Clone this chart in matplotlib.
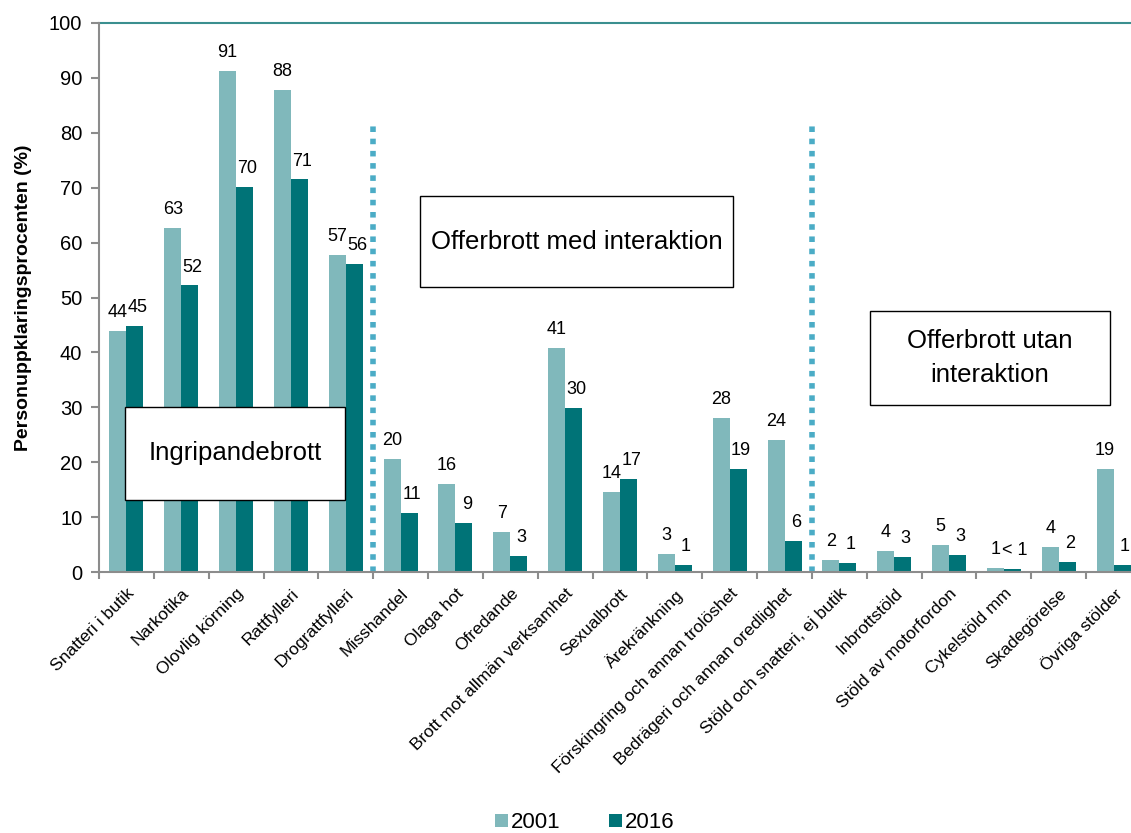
import matplotlib
matplotlib.use('Agg')
import matplotlib.pyplot as plt
from matplotlib.patches import Rectangle
import numpy as np

plt.rcParams['font.family'] = ['Liberation Sans', 'DejaVu Sans']

# Data
categories = ['Snatteri i butik', 'Narkotika', 'Olovlig körning', 'Rattfylleri',
              'Drograttfylleri', 'Misshandel', 'Olaga hot', 'Ofredande',
              'Brott mot allmän verksamhet', 'Sexualbrott', 'Ärekränkning',
              'Förskingring och annan trolöshet', 'Bedrägeri och annan oredlighet',
              'Stöld och snatteri, ej butik', 'Inbrottstöld', 'Stöld av motorfordon',
              'Cykelstöld mm', 'Skadegörelse', 'Övriga stölder']
values_2001 = [43.9, 62.7, 91.3, 87.8, 57.7, 20.6, 16.0, 7.3, 40.8, 14.6, 3.3,
               28.1, 24.0, 2.2, 3.8, 4.9, 0.8, 4.6, 18.8]
values_2016 = [44.8, 52.2, 70.1, 71.5, 56.1, 10.7, 8.9, 2.9, 29.9, 16.9, 1.3,
               18.7, 5.6, 1.6, 2.7, 3.1, 0.5, 1.8, 1.3]
labels_2001 = ['44', '63', '91', '88', '57', '20', '16', '7', '41', '14', '3',
               '28', '24', '2', '4', '5', '1', '4', '19']
labels_2016 = ['45', '52', '70', '71', '56', '11', '9', '3', '30', '17', '1',
               '19', '6', '1', '3', '3', '< 1', '2', '1']

c2001 = '#80b8bb'
c2016 = '#007377'
dotted = '#4bacc6'
gray = '#8c8c8c'

fig = plt.figure(figsize=(11.31, 8.33), dpi=100)
ax = fig.add_axes([99 / 1131, 1 - 572 / 833, 1042 / 1131, 549 / 833])

x = np.arange(len(categories))
w = 0.31
ax.bar(x - w / 2, values_2001, w, color=c2001, label='2001')
ax.bar(x + w / 2, values_2016, w, color=c2016, label='2016')

for i in range(len(categories)):
    ax.text(x[i] - w / 2, values_2001[i] + 1.8, labels_2001[i], ha='center',
            va='bottom', fontsize=13)
    ax.text(x[i] + w / 2 + 0.05, values_2016[i] + 1.8, labels_2016[i], ha='center',
            va='bottom', fontsize=13)

ax.set_xlim(-0.5, len(categories) - 0.5)
ax.set_ylim(0, 100)
ax.set_yticks(range(0, 101, 10))
ax.tick_params(axis='y', labelsize=14.5, color=gray, length=6, width=1.5, pad=6)
ax.set_xticks(x)
ax.set_xticklabels(categories, rotation=45, ha='right', rotation_mode='anchor',
                   fontsize=12.5)
ax.tick_params(axis='x', length=0, pad=10)
ax.set_xticks(np.arange(-0.5, len(categories), 1), minor=True)
ax.tick_params(axis='x', which='minor', length=5, width=1.5, color=gray)

for s in ['top', 'right']:
    ax.spines[s].set_visible(False)
for s in ['left', 'bottom']:
    ax.spines[s].set_color(gray)
    ax.spines[s].set_linewidth(1.5)
ax.axhline(100, color='#3a8f8f', lw=1.5, clip_on=False)

ax.set_ylabel('Personuppklaringsprocenten (%)', fontsize=14, fontweight='bold',
              labelpad=12)

# group separators
for xs in [4.5, 12.5]:
    ax.plot([xs, xs], [0, 82], color=dotted, lw=4, linestyle=(0, (1.0, 1.2)),
            dash_capstyle='butt')

# group boxes
boxes = [((-0.03, 13.1), 4.02, 17.0, 'Ingripandebrott'),
         ((5.35, 51.9), 5.71, 16.6, 'Offerbrott med interaktion'),
         ((13.56, 30.4), 4.37, 17.2, 'Offerbrott utan\ninteraktion')]
for (bx, by), bw, bh, txt in boxes:
    ax.add_patch(Rectangle((bx, by), bw, bh, facecolor='white', edgecolor='black',
                           lw=1, zorder=4))
    ax.text(bx + bw / 2, by + bh / 2, txt, fontsize=18.5, ha='center', va='center',
            linespacing=1.5, zorder=5)

fig.legend(loc='center', bbox_to_anchor=(585 / 1131, 1 - 823 / 833), ncol=2,
           frameon=False, fontsize=16, handlelength=0.55, handleheight=0.55,
           columnspacing=2.2, handletextpad=0.15)

fig.savefig('out.png', dpi=100)
